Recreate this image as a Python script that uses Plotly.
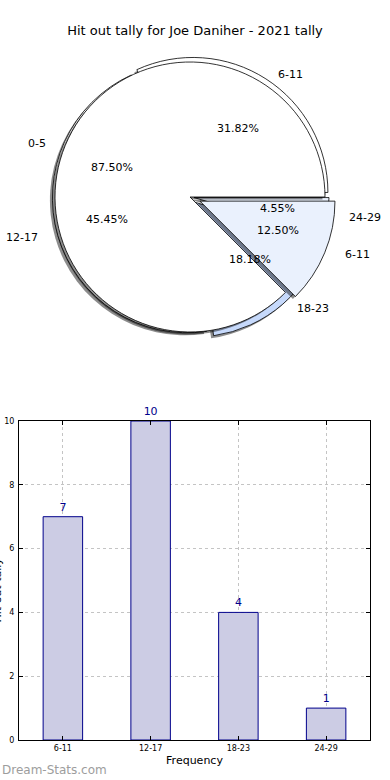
import math
import plotly.graph_objects as go

# ---------------- data ----------------
chart_title = "Hit out tally for Joe Daniher - 2021 tally"

inner_labels = ["0-5", "6-11"]
inner_values = [7, 1]
inner_pull = [0.0, 0.08]
inner_colors = ["#ffffff", "#eaf1fd"]

outer_labels = ["6-11", "12-17", "18-23", "24-29"]
outer_values = [7, 10, 4, 1]
outer_pull = [0.04, 0.02, 0.05, 0.03]
outer_colors = ["#ffffff", "#ffffff", "#c6d9fb", "#eaf1fd"]

bar_categories = ["6-11", "12-17", "18-23", "24-29"]
bar_values = [7, 10, 4, 1]
y_ticks = [0, 2, 4, 6, 8, 10]

x_title = "Frequency"
y_title = "Hit out tally"
watermark = "Dream-Stats.com"

# ---------------- geometry ----------------
W, H = 390, 780
CX, CY = 190, 197          # pie centre (px)
R = 135                    # pie radius (px)
RX, RY = 140, 128          # text placement radii (px)
FONT = "DejaVu Sans"


def px_x(x):
    return x / W


def px_y(y):
    return 1 - y / H


def pie_domain(pulls, dx=0, dy=0):
    h = R * (1 + max(pulls))
    return dict(x=[px_x(CX + dx - h), px_x(CX + dx + h)],
                y=[px_y(CY + dy + h), px_y(CY + dy - h)])


def make_pie(labels, values, pulls, colors, dx=0, dy=0, shadow=False):
    # first slice starts at 3 o'clock and slices run counter-clockwise
    rot = 90 - 360.0 * values[0] / sum(values)
    return go.Pie(
        labels=labels, values=values, pull=pulls, sort=False,
        direction="counterclockwise", rotation=rot,
        textinfo="none", hoverinfo="label+percent", showlegend=False,
        domain=pie_domain(pulls, dx, dy),
        marker=dict(
            colors=["rgba(0,0,0,0.45)"] * len(values) if shadow else colors,
            line=dict(color="rgba(0,0,0,0)" if shadow else "#000000",
                      width=0 if shadow else 0.8)),
    )


fig = go.Figure()
fig.add_trace(make_pie(outer_labels, outer_values, outer_pull, outer_colors, -2.5, 2.5, True))
fig.add_trace(make_pie(outer_labels, outer_values, outer_pull, outer_colors))
fig.add_trace(make_pie(inner_labels, inner_values, inner_pull, inner_colors, -2.5, 2.5, True))
fig.add_trace(make_pie(inner_labels, inner_values, inner_pull, inner_colors))

annotations = []


def pie_texts(labels, values, pulls):
    total = sum(values)
    start = 0.0
    for lab, v, p in zip(labels, values, pulls):
        frac = v / total
        mid = math.radians(start + frac * 180.0)
        start += frac * 360.0
        c, s = math.cos(mid), math.sin(mid)
        annotations.append(dict(
            x=px_x(CX + (p + 0.6) * RX * c), y=px_y(CY - (p + 0.6) * RY * s),
            xref="paper", yref="paper", text=f"{100 * frac:.2f}%",
            showarrow=False, xanchor="center", yanchor="middle",
            font=dict(family=FONT, size=11, color="#000000")))
        annotations.append(dict(
            x=px_x(CX + (p + 1.1) * RX * c), y=px_y(CY - (p + 1.1) * RY * s),
            xref="paper", yref="paper", text=lab,
            showarrow=False, xanchor="left" if c > 0 else "right", yanchor="middle",
            font=dict(family=FONT, size=11, color="#000000")))


pie_texts(outer_labels, outer_values, outer_pull)
pie_texts(inner_labels, inner_values, inner_pull)

# ---------------- bar chart ----------------
fig.add_trace(go.Bar(
    x=bar_categories, y=bar_values, width=0.45,
    marker=dict(color="#ccccE4", line=dict(color="#00008b", width=1)),
    text=bar_values, texttemplate="%{y}", textposition="outside",
    textfont=dict(family=FONT, size=11, color="#00008b"),
    cliponaxis=False, showlegend=False, xaxis="x", yaxis="y",
))

grid = dict(showgrid=True, gridcolor="#c4c4c4", griddash="dot", gridwidth=1,
            showline=True, linecolor="#000000", linewidth=1, mirror="allticks",
            ticks="inside", ticklen=4, tickcolor="#000000", zeroline=False,
            automargin=False,
            tickfont=dict(family=FONT, size=8, color="#000000"))

fig.update_layout(
    width=W, height=H,
    margin=dict(l=0, r=0, t=0, b=0, autoexpand=False),
    paper_bgcolor="#ffffff", plot_bgcolor="#ffffff",
    font=dict(family=FONT, color="#000000"),
    title=dict(text=chart_title, x=0.5, xanchor="center", y=px_y(30), yanchor="middle",
               font=dict(family=FONT, size=13, color="#000000")),
    xaxis=dict(domain=[px_x(19), px_x(370)], anchor="y", type="category",
               range=[-0.5, 3.5],
               title=dict(text=x_title, standoff=4,
                          font=dict(family=FONT, size=11, color="#000000")),
               **grid),
    yaxis=dict(domain=[px_y(740), px_y(421)], anchor="x", range=[0, 10],
               tickvals=y_ticks, ticklabelstandoff=2, **grid),
    annotations=annotations + [
        dict(x=px_x(5), y=px_y(590), xref="paper", yref="paper", text=y_title,
             textangle=-90, showarrow=False, xanchor="right", yanchor="middle",
             font=dict(family=FONT, size=11, color="#000000")),
        dict(x=0, y=px_y(770), xref="paper", yref="paper", text=watermark,
             showarrow=False, xanchor="left", yanchor="middle",
             font=dict(family=FONT, size=12, color="#9d9d9d")),
    ],
)

fig.write_html("out.html", config={"displayModeBar": False},
               post_script="document.body.style.margin='0';document.body.style.overflow='hidden';")
